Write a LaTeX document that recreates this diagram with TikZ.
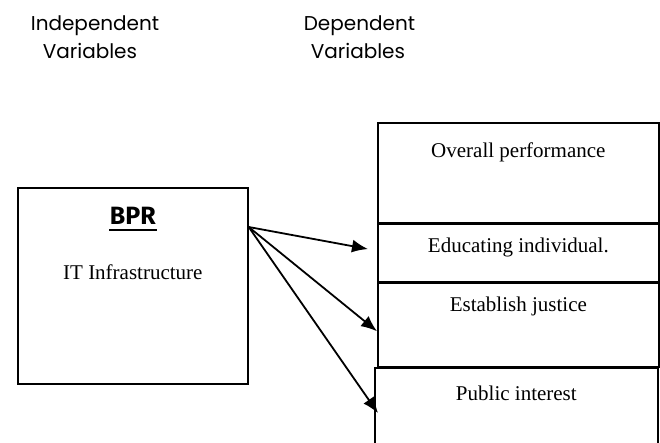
\documentclass[tikz,border=0pt]{standalone}
\usepackage{fontspec}
\setmainfont{Liberation Serif}
\newfontfamily\gothic{Poppins}
\newfontfamily\heavy{Fira Sans}
\usetikzlibrary{arrows.meta, positioning, calc}

\tikzset{
  box/.style={rectangle, draw, minimum width=281pt, anchor=north west, inner sep=0pt},
  lbl/.style={font=\fontsize{21}{25}\selectfont},
  head/.style={font=\gothic\fontsize{20}{28}\selectfont, align=left, anchor=north west, inner sep=0pt},
  link/.style={-{Latex[length=16pt,width=13pt]}, line width=1.8pt}
}

\begin{document}
\begin{tikzpicture}[x=1pt, y=-1pt, line width=1.7pt]
      \useasboundingbox (0,0) rectangle (660,443);

      % Column headings
      \node[head] (indep) at (30,15) {Independent\\\hspace*{12pt}Variables};
      \node[head] (dep) at (303,15) {Dependent\\\hspace*{7pt}Variables};

      % Independent variable
      \node[rectangle, draw, minimum width=230pt, minimum height=196pt, anchor=north west] (bpr) at (17,187) {};
      \node[font=\heavy\bfseries\fontsize{25}{30}\selectfont, inner sep=0pt] (bprtxt) at ($(bpr.north)+(0,29)$) {BPR};
      \draw[line width=2pt] ($(bprtxt.base west)+(0,-5pt)$) -- ($(bprtxt.base east)+(0,-5pt)$);
      \node[lbl] (itinfra) at ($(bpr.north)+(0,85)$) {IT Infrastructure};

      % Dependent variables
      \node[box, minimum height=100pt] (ovr) at (377,122) {};
      \node[box, minimum height=57pt] (edu) at (ovr.south west) {};
      \node[box, minimum height=84pt] (est) at (edu.south west) {};
      \node[box, draw=none, minimum height=80pt] (pub) at ($(est.south west)+(-2,0)$) {};
      \draw (pub.south west) |- (pub.north east) -- (pub.south east);

      \node[lbl] (ovrtxt) at ($(ovr.north)+(0,30)$) {Overall performance};
      \node[lbl] (edutxt) at ($(edu.north)+(0,24)$) {Educating individual.};
      \node[lbl] (esttxt) at ($(est.north)+(0,24)$) {Establish justice};
      \node[lbl] (pubtxt) at ($(pub.north)+(0,25)$) {Public interest};

      % Arrows
      \coordinate (src) at ($(bpr.north east)+(0,40)$);
      \coordinate (tipa) at ($(edu.west)+(-9,-4)$);
      \coordinate (tipb) at ($(est.west)+(0,6)$);
      \coordinate (tipc) at ($(pub.north west)+(3,45)$);
      \draw[link] (src) -- (tipa);
      \draw[link] (src) -- (tipb);
      \draw[link] (src) -- (tipc);
\end{tikzpicture}
\end{document}
